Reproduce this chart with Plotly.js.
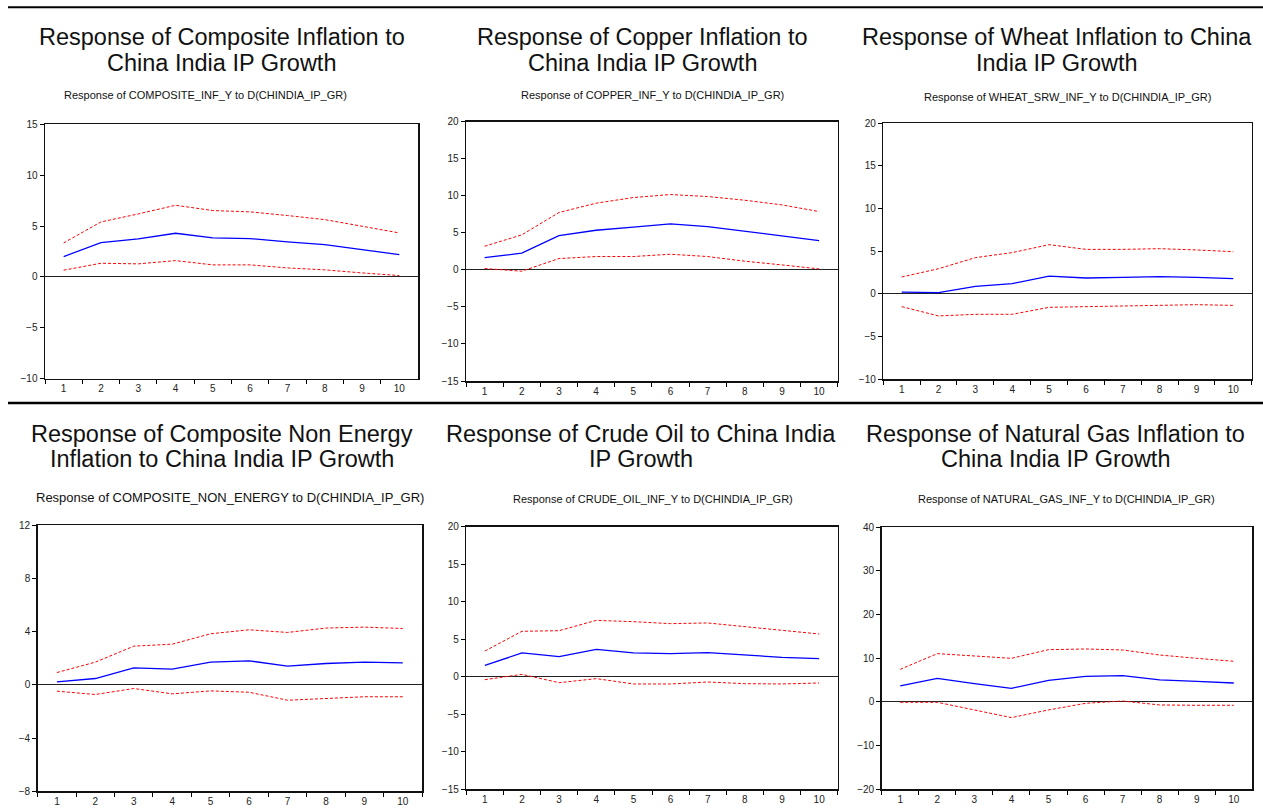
<!DOCTYPE html>
<html>
<head>
<meta charset="utf-8">
<script src="https://cdn.plot.ly/plotly-3.0.1.min.js"></script>
<style>
  html, body { margin: 0; padding: 0; background: #fff; }
  #chart { width: 1263px; height: 808px; }
</style>
</head>
<body>
<div id="chart"></div>
<script>
// ---------- DATA ----------
const periods = ['1','2','3','4','5','6','7','8','9','10'];

const titlesLine1 = [
  'Response of Composite Inflation to',
  'Response of Copper Inflation to',
  'Response of Wheat Inflation to China',
  'Response of Composite Non Energy',
  'Response of Crude Oil to China India',
  'Response of Natural Gas Inflation to'
];
const titlesLine2 = [
  'China India IP Growth',
  'China India IP Growth',
  'India IP Growth',
  'Inflation to China India IP Growth',
  'IP Growth',
  'China India IP Growth'
];
const subtitles = [
  'Response of COMPOSITE_INF_Y to D(CHINDIA_IP_GR)',
  'Response of COPPER_INF_Y to D(CHINDIA_IP_GR)',
  'Response of WHEAT_SRW_INF_Y to D(CHINDIA_IP_GR)',
  'Response of COMPOSITE_NON_ENERGY to D(CHINDIA_IP_GR)',
  'Response of CRUDE_OIL_INF_Y to D(CHINDIA_IP_GR)',
  'Response of NATURAL_GAS_INF_Y to D(CHINDIA_IP_GR)'
];

const compositeResp  = [2.0, 3.37, 3.73, 4.29, 3.83, 3.77, 3.44, 3.18, 2.69, 2.19];
const compositeUpper = [3.34, 5.4, 6.19, 7.04, 6.52, 6.39, 6.03, 5.63, 4.98, 4.32];
const compositeLower = [0.66, 1.34, 1.28, 1.6, 1.18, 1.18, 0.88, 0.69, 0.39, 0.13];

const copperResp  = [1.66, 2.25, 4.63, 5.35, 5.76, 6.2, 5.85, 5.22, 4.63, 3.96];
const copperUpper = [3.19, 4.72, 7.74, 9.0, 9.76, 10.17, 9.9, 9.4, 8.77, 7.87];
const copperLower = [0.18, -0.18, 1.53, 1.8, 1.8, 2.11, 1.8, 1.17, 0.67, 0.13];

const wheatResp  = [0.2, 0.13, 0.87, 1.19, 2.08, 1.85, 1.93, 2.0, 1.93, 1.77];
const wheatUpper = [1.97, 2.94, 4.24, 4.83, 5.76, 5.21, 5.21, 5.29, 5.14, 4.94];
const wheatLower = [-1.51, -2.6, -2.41, -2.41, -1.59, -1.51, -1.4, -1.28, -1.28, -1.36];

const nonEnergyResp  = [0.22, 0.47, 1.27, 1.17, 1.7, 1.8, 1.4, 1.6, 1.7, 1.65];
const nonEnergyUpper = [0.92, 1.7, 2.9, 3.05, 3.83, 4.13, 3.93, 4.26, 4.33, 4.23];
const nonEnergyLower = [-0.48, -0.73, -0.28, -0.68, -0.46, -0.56, -1.16, -1.03, -0.9, -0.9];

const crudeResp  = [1.52, 3.17, 2.68, 3.66, 3.17, 3.08, 3.21, 2.86, 2.59, 2.41];
const crudeUpper = [3.43, 6.06, 6.14, 7.52, 7.34, 7.08, 7.17, 6.68, 6.14, 5.7];
const crudeLower = [-0.39, 0.32, -0.79, -0.25, -0.96, -0.96, -0.7, -0.92, -0.96, -0.83];

const gasResp  = [3.64, 5.39, 4.17, 3.1, 4.93, 5.85, 6.0, 5.01, 4.7, 4.32];
const gasUpper = [7.45, 11.03, 10.5, 9.96, 11.94, 12.1, 11.87, 10.72, 9.96, 9.28];
const gasLower = [-0.1, -0.1, -1.85, -3.6, -1.85, -0.33, 0.2, -0.71, -0.78, -0.78];

const yRanges = [[-10, 15], [-15, 20], [-10, 20], [-8, 12], [-15, 20], [-20, 40]];
const yDticks = [5, 5, 5, 4, 5, 10];

// ---------- LAYOUT HELPERS (pixel -> paper) ----------
const W = 1263, H = 808;
const px = x => x / W;
const py = y => 1 - y / H;

const panelBoxes = [ // [left, right, top, bottom] in px
  [45, 418, 124.3, 378.6],
  [466, 837.7, 121.7, 381],
  [883.3, 1251.7, 123.3, 379],
  [37.7, 422, 525, 791.3],
  [466.3, 837.7, 526.7, 789.3],
  [881.7, 1252.3, 527, 789.3]
];
const titleCenters = [221.5, 642, 1057, 221.5, 641.5, 1055.5];
const titleY1 = [37, 37, 37, 434, 434, 434];
const titleY2 = [63, 63, 63, 459, 459, 459];
const subCenters = [205, 652, 1067, 230, 652.5, 1066.5];
const subY = [95.5, 95, 97, 497, 499, 499];
const subSize = [11, 11, 11, 13, 11, 11];

const series = [
  [compositeResp, compositeUpper, compositeLower],
  [copperResp, copperUpper, copperLower],
  [wheatResp, wheatUpper, wheatLower],
  [nonEnergyResp, nonEnergyUpper, nonEnergyLower],
  [crudeResp, crudeUpper, crudeLower],
  [gasResp, gasUpper, gasLower]
];

const traces = [];
const layout = {
  width: W, height: H,
  margin: {l: 0, r: 0, t: 0, b: 0},
  paper_bgcolor: '#fff', plot_bgcolor: '#fff',
  showlegend: false,
  font: {family: 'Arial, "Liberation Sans", sans-serif', color: '#111'},
  annotations: [],
  shapes: []
};

series.forEach((s, i) => {
  const n = i + 1;
  const xa = 'x' + (n === 1 ? '' : n), ya = 'y' + (n === 1 ? '' : n);
  const [resp, up, lo] = s;
  traces.push({x: periods, y: up, xaxis: xa, yaxis: ya, type: 'scatter', mode: 'lines',
               line: {color: '#ff0000', width: 1, dash: '3px,2px'}, hoverinfo: 'skip'});
  traces.push({x: periods, y: lo, xaxis: xa, yaxis: ya, type: 'scatter', mode: 'lines',
               line: {color: '#ff0000', width: 1, dash: '3px,2px'}, hoverinfo: 'skip'});
  traces.push({x: periods, y: resp, xaxis: xa, yaxis: ya, type: 'scatter', mode: 'lines',
               line: {color: '#0000ff', width: 1.3}, hoverinfo: 'skip'});

  const b = panelBoxes[i];
  layout['xaxis' + (n === 1 ? '' : n)] = {
    domain: [px(b[0]), px(b[1])],
    anchor: ya,
    type: 'category',
    categoryorder: 'array', categoryarray: periods,
    range: [-0.5, 9.5],
    tickson: 'boundaries',
    ticks: 'outside', ticklen: 4, tickwidth: 1, tickcolor: '#000',
    showline: true, linecolor: '#111', linewidth: 1.5, mirror: true,
    showgrid: false, zeroline: false,
    tickfont: {size: 10, color: '#222'},
    fixedrange: true
  };
  layout['yaxis' + (n === 1 ? '' : n)] = {
    domain: [py(b[3]), py(b[2])],
    anchor: xa,
    range: yRanges[i],
    tick0: 0, dtick: yDticks[i],
    ticks: 'outside', ticklen: 4, tickwidth: 1, tickcolor: '#000',
    showline: true, linecolor: '#111', linewidth: 1.5, mirror: true,
    showgrid: false,
    zeroline: true, zerolinecolor: '#222', zerolinewidth: 1,
    tickfont: {size: 10, color: '#222'},
    fixedrange: true
  };

  layout.annotations.push({
    xref: 'paper', yref: 'paper', x: px(titleCenters[i]), y: py(titleY1[i]),
    xanchor: 'center', yanchor: 'middle', showarrow: false,
    text: titlesLine1[i], font: {size: 23.5, color: '#111'}
  });
  layout.annotations.push({
    xref: 'paper', yref: 'paper', x: px(titleCenters[i]), y: py(titleY2[i]),
    xanchor: 'center', yanchor: 'middle', showarrow: false,
    text: titlesLine2[i], font: {size: 23.5, color: '#111'}
  });
  layout.annotations.push({
    xref: 'paper', yref: 'paper', x: px(subCenters[i]), y: py(subY[i]),
    xanchor: 'center', yanchor: 'middle', showarrow: false,
    text: subtitles[i], font: {size: subSize[i], color: '#111'}
  });
});

// horizontal rules
layout.shapes.push({type: 'line', xref: 'paper', yref: 'paper',
  x0: px(8), x1: 1, y0: py(7.3), y1: py(7.3), line: {color: '#000', width: 2}});
layout.shapes.push({type: 'line', xref: 'paper', yref: 'paper',
  x0: px(8), x1: 1, y0: py(403), y1: py(403), line: {color: '#000', width: 2.5}});

Plotly.newPlot('chart', traces, layout, {staticPlot: true, displayModeBar: false});
</script>
</body>
</html>
